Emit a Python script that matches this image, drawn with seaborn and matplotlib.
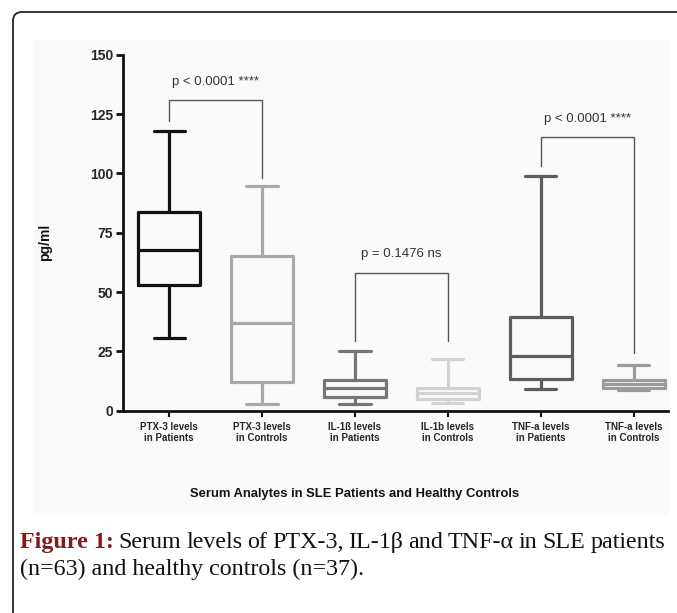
import numpy as np
import pandas as pd
import matplotlib
matplotlib.use("Agg")
import matplotlib.pyplot as plt
from matplotlib.patches import FancyBboxPatch, Rectangle
from matplotlib.transforms import IdentityTransform
import seaborn as sns

# ---------------- data ----------------
categories = ["PTX-3 levels\nin Patients", "PTX-3 levels\nin Controls",
              "IL-1ß levels\nin Patients", "IL-1b levels\nin Controls",
              "TNF-a levels\nin Patients", "TNF-a levels\nin Controls"]
mins    = [30.5,  3.0,  2.7, 3.4,  9.3,  8.7]
q1s     = [53.1, 12.2,  5.9, 5.1, 13.4,  9.7]
medians = [67.8, 37.0,  9.7, 7.3, 22.9, 11.3]
q3s     = [83.6, 65.2, 12.9, 9.7, 39.5, 12.9]
maxs    = [117.8, 94.7, 25.0, 21.9, 99.0, 19.4]
box_colors = ["#111111", "#a9a9a9", "#767676", "#d2d2d2", "#5c5c5c", "#9b9b9b"]

# comparisons: (left idx, right idx, bracket top, left leg bottom, right leg bottom,
#               label, label centre height)
brackets = [
    (0, 1, 130.9, 122.0, 98.2, "p < 0.0001 ****", 138.6),
    (2, 3, 57.9, 29.4, 29.4, "p = 0.1476 ns", 66.0),
    (4, 5, 115.2, 103.1, 24.4, "p < 0.0001 ****", 123.0),
]
y_ticks = [0, 25, 50, 75, 100, 125, 150]
y_label = "pg/ml"
x_label = "Serum Analytes in SLE Patients and Healthy Controls"
caption_bold = "Figure 1:"
caption_line1 = "Serum levels of PTX-3, IL-1β and TNF-α in SLE patients"
caption_line2 = "(n=63) and healthy controls (n=37)."

# five-number summaries -> five observations per group (whiskers span min..max)
rows = []
for c, a, b, m, d, e in zip(categories, mins, q1s, medians, q3s, maxs):
    for v in (a, b, m, d, e):
        rows.append({"group": c, "value": v})
df = pd.DataFrame(rows)

# ---------------- figure ----------------
W, H = 677, 613
sns.set_style("ticks")
plt.rcParams["font.family"] = ["Liberation Sans", "DejaVu Sans"]

fig = plt.figure(figsize=(W / 100, H / 100), dpi=100)

def fx(x):
    return x / W

def fy(y):
    return 1 - y / H

# light chart panel + rounded frame
panel = Rectangle((fx(33), fy(515)), fx(669) - fx(33), fy(40) - fy(515),
                  transform=fig.transFigure, facecolor="#fafafa",
                  edgecolor="none", zorder=-10)
fig.add_artist(panel)
frame = FancyBboxPatch((13, -40), 720, H - 12 + 40,
                       boxstyle="round,pad=0,rounding_size=9",
                       transform=IdentityTransform(), facecolor="none",
                       edgecolor="#222222", linewidth=1.3, zorder=-9)
fig.add_artist(frame)

ax_left, ax_right, ax_bottom, ax_top = 122.7, 668, 410.7, 54.7
ax = fig.add_axes([fx(ax_left), fy(ax_bottom), fx(ax_right) - fx(ax_left),
                   fy(ax_top) - fy(ax_bottom)])
ax.set_facecolor("none")
ax.set_zorder(5)

sns.boxplot(data=df, x="group", y="value", hue="group", order=categories,
            hue_order=categories, palette=box_colors, fill=False,
            whis=(0, 100), width=0.67, linewidth=2.3, legend=False, ax=ax)

ax.set_xlim(-0.5, 5.37)
ax.set_ylim(0, 150)
ax.set_yticks(y_ticks)
ax.set_yticklabels([str(t) for t in y_ticks], fontsize=10, fontweight="bold")
ax.set_xticks(range(len(categories)))
ax.set_xticklabels(categories, fontsize=7, fontweight="bold", linespacing=1.15)
ax.tick_params(axis="y", length=5, width=2, pad=2, color="#111111")
ax.tick_params(axis="x", length=4, width=1.5, pad=4, color="#111111")
for s in ("top", "right"):
    ax.spines[s].set_visible(False)
for s in ("left", "bottom"):
    ax.spines[s].set_linewidth(2)
    ax.spines[s].set_color("#111111")
ax.set_xlabel("")
ax.set_ylabel("")

# significance brackets
for i, j, top, lb, rb, lab, ty in brackets:
    ax.plot([i, i, j, j], [lb, top, top, rb], color="#555555", linewidth=1.0,
            solid_joinstyle="miter", clip_on=False)
    ax.text((i + j) / 2, ty, lab, ha="center", va="center", fontsize=9.5,
            color="#333333")

# axis titles
fig.text(fx(45), fy(242), y_label, rotation=90, ha="center", va="center",
         fontsize=10, fontweight="bold", color="#111111")
fig.text(fx(355), fy(494), x_label, ha="center", va="center",
         fontsize=9.4, fontweight="bold", color="#111111")

# caption (justified first line)
fig.canvas.draw()
r = fig.canvas.get_renderer()
serif = ["Liberation Serif", "DejaVu Serif"]

def width_of(s, **kw):
    t = fig.text(0, 0, s, **kw)
    w = t.get_window_extent(r).width
    t.remove()
    return w

# size the caption so the second line is as wide as in the reference
cap_fs = 10 * 344 / width_of(caption_line2, family=serif, fontsize=10)
bold_kw = dict(family=serif, fontsize=cap_fs, fontweight="bold", color="#821c1c")
reg_kw = dict(family=serif, fontsize=cap_fs, color="#111111")
words = [(caption_bold, bold_kw)] + [(w, reg_kw) for w in caption_line1.split()]
widths = [width_of(w, **kw) for w, kw in words]
x0, x1 = 20, 665
gap = (x1 - x0 - sum(widths)) / (len(words) - 1)
x = x0
for (w, kw), wd in zip(words, widths):
    fig.text(fx(x), fy(548), w, ha="left", va="baseline", **kw)
    x += wd + gap
fig.text(fx(20), fy(575), caption_line2, ha="left", va="baseline", **reg_kw)

fig.savefig("out.png", dpi=100)
